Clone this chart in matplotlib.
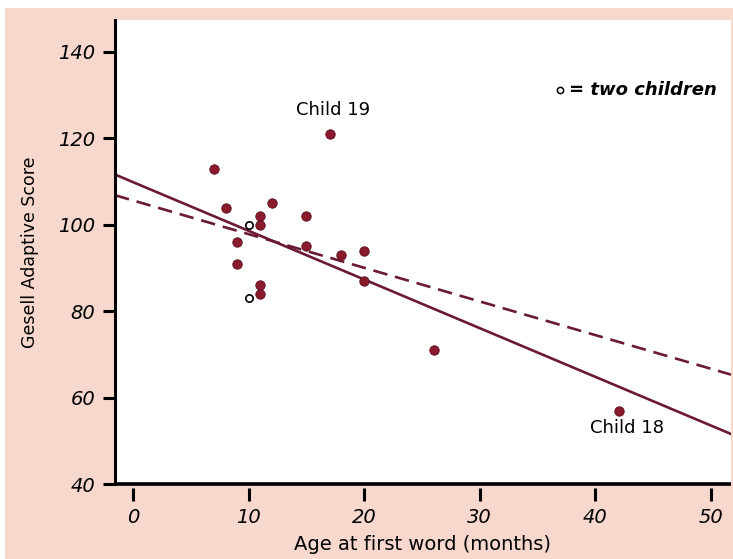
# Gesell adaptive score vs age at first word, with two fitted lines
# (all children, and without child 18).

import matplotlib as mpl
import matplotlib.pyplot as plt
from matplotlib.patches import Rectangle
import numpy as np

# --- data (child number, age at first word in months, Gesell score) ---
child = [1, 2, 3, 4, 5, 6, 7, 8, 9, 10, 11, 12, 13, 14, 15, 16, 17, 18, 19, 20, 21]
age = [15, 26, 10, 9, 15, 20, 18, 11, 8, 20, 7, 9, 10, 11, 11, 10, 12, 42, 17, 11, 10]
score = [95, 71, 83, 91, 102, 87, 93, 100, 104, 94, 113, 96, 83, 84, 102, 100, 105, 57, 121, 86, 100]

x_ticks = [0, 10, 20, 30, 40, 50]
y_ticks = [40, 60, 80, 100, 120, 140]

mpl.rcParams.update({
    "font.family": "DejaVu Sans",
    "text.color": "black",
})

PINK = "#F6D8CC"
POINT = "#8A1A2C"
LINE = "#6A1937"

fig = plt.figure(figsize=(7.33, 5.59), dpi=100)
fig.patch.set_facecolor("white")
# pink panel, with a thin white border on the top and left
fig.patches.append(Rectangle((5 / 733, 0), 1, 1 - 8 / 559, transform=fig.transFigure,
                             facecolor=PINK, edgecolor="none", zorder=-1))

ax = fig.add_axes([115 / 733, 1 - 484 / 559, 616 / 733, 464 / 559])
ax.set_facecolor("white")

x = np.array(age, dtype=float)
y = np.array(score, dtype=float)

# children that share a point with another child -> open circle
pairs = {}
for a, s in zip(age, score):
    pairs[(a, s)] = pairs.get((a, s), 0) + 1
single = [(a, s) for (a, s), n in pairs.items() if n == 1]
double = [(a, s) for (a, s), n in pairs.items() if n == 2]

xmin, xmax = -1.56, 51.73
ax.set_xlim(xmin, xmax)
ax.set_ylim(40, 147.4)

# fitted lines
xx = np.array([xmin, xmax])
b_all = np.polyfit(x, y, 1)
keep = np.array(child) != 18
b_no18 = np.polyfit(x[keep], y[keep], 1)
ax.plot(xx, np.polyval(b_all, xx), color=LINE, lw=1.9, zorder=2)
ax.plot(xx, np.polyval(b_no18, xx), color=LINE, lw=1.9, ls=(0, (5.5, 3)), zorder=2)

ax.scatter([p[0] for p in single], [p[1] for p in single], s=46, color=POINT,
           edgecolor="#5A0F1E", linewidth=0.6, zorder=3)
ax.scatter([p[0] for p in double], [p[1] for p in double], s=28, facecolor="white",
           edgecolor="black", linewidth=1.2, zorder=3)

ax.text(17.3, 126.5, "Child 19", ha="center", va="center", fontsize=13)
ax.text(42.7, 53, "Child 18", ha="center", va="center", fontsize=13)

ax.plot([0.722], [0.849], "o", transform=ax.transAxes, ms=4.5, mfc="white",
        mec="black", mew=1.1, clip_on=False)
ax.text(0.737, 0.849, "= two children", transform=ax.transAxes, ha="left",
        va="center", fontsize=13, fontstyle="italic", fontweight="bold")

# axes frame: left spine and a bottom line, x ticks drawn a little below it
for side in ["top", "right"]:
    ax.spines[side].set_visible(False)
ax.spines["left"].set_linewidth(2.2)
ax.spines["bottom"].set_visible(False)
ax.spines["bottom"].set_position(("outward", 3))
ax.plot([0, 1], [0, 0], transform=ax.transAxes, color="black", lw=2.6,
        clip_on=False, solid_capstyle="butt", zorder=4)

ax.set_xticks(x_ticks)
ax.set_yticks(y_ticks)
ax.tick_params(axis="both", direction="out", length=9, width=2.2, labelsize=14, pad=5)
for lab in ax.get_xticklabels() + ax.get_yticklabels():
    lab.set_fontstyle("italic")

ax.set_xlabel("Age at first word (months)", fontsize=14, labelpad=6)
ax.set_ylabel("Gesell Adaptive Score", fontsize=12.5, labelpad=14)

fig.savefig("out.png", dpi=100, facecolor=fig.get_facecolor())
